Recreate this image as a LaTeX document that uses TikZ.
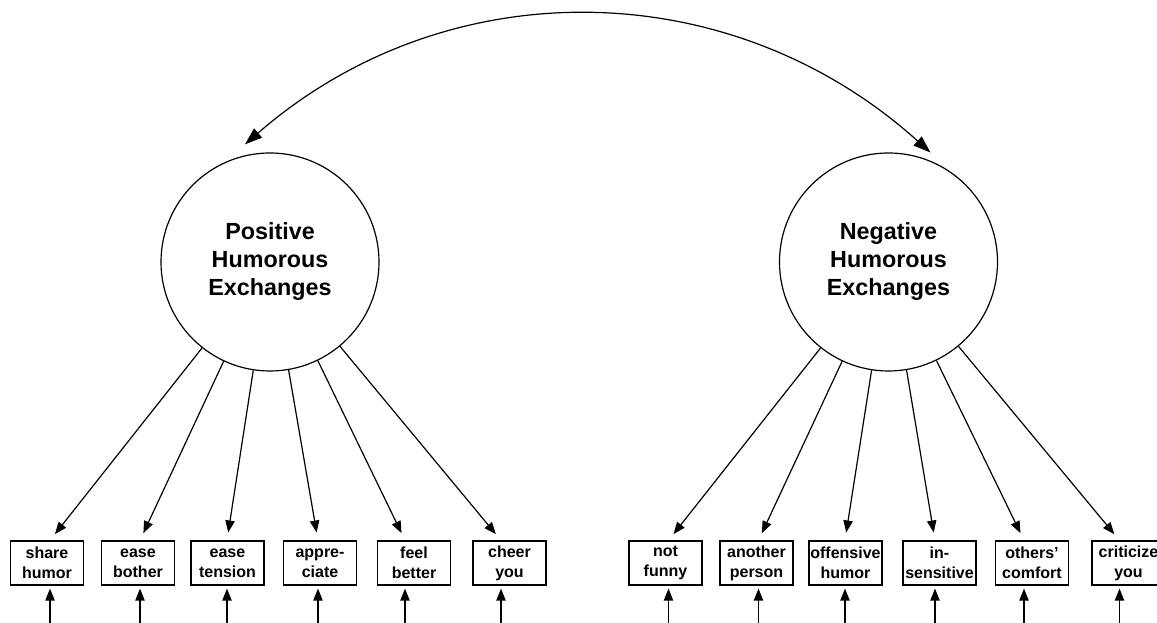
\documentclass[tikz,border=0pt]{standalone}
\usepackage{fontspec}
\setmainfont{Liberation Sans}
\usetikzlibrary{arrows.meta}
\tikzset{
	factor/.style={circle, draw, line width=0.9pt, minimum size=163.5pt, inner sep=0pt, align=center,
		font=\fontsize{17.5}{21}\selectfont\bfseries},
	item/.style={rectangle, draw, line width=0.9pt, minimum width=54.75pt, minimum height=33pt, inner sep=0pt, align=center,
		font=\fontsize{12}{15}\selectfont\bfseries},
	load/.style={line width=0.9pt, -{Triangle[length=9pt,width=7pt]}},
	corr/.style={line width=0.9pt, {Triangle[length=13pt,width=9pt]}-{Triangle[length=13pt,width=9pt]}}
}

\begin{document}
\begin{tikzpicture}[x=0.75pt,y=0.75pt]
	\useasboundingbox (0,0) rectangle (1157,623);
	\node[factor] (pos) at (270,361) {Positive\\Humorous\\Exchanges};
	\node[factor] (neg) at (888.5,361) {Negative\\Humorous\\Exchanges};
	\draw[corr] ([shift={(102:8pt)}]pos.102) to[out=41, in=138] ([shift={(69:5.7pt)}]neg.69);
	\foreach \i/\bx/\ax/\txt in {1/47/50/{share\\humor}, 2/138/140/{ease\\bother}, 3/227.5/227/{ease\\tension},
		4/320/318/{appre-\\ciate}, 5/414/405/{feel\\better}, 6/509.5/501/{cheer\\you}}
	{
		\node[item] (p\i) at (\bx,60) {\txt};
		\coordinate (pe\i) at (\ax,-5);
		\draw[load, shorten >=6pt] (pos) -- (pe\i |- p\i.north);
		\draw[load, shorten >=2.25pt] (pe\i) -- (pe\i |- p\i.south);
	}
	\foreach \i/\bx/\ax/\txt in {1/665.5/668.5/{not\\funny}, 2/756.5/758.5/{another\\person}, 3/845.5/845/{offensive\\humor},
		4/939.5/935/{in-\\sensitive}, 5/1032/1024/{others’\\comfort}, 6/1128.5/1119.5/{criticize\\you}}
	{
		\node[item] (n\i) at (\bx,60) {\txt};
		\coordinate (ne\i) at (\ax,-5);
		\draw[load, shorten >=6pt] (neg) -- (ne\i |- n\i.north);
		\draw[load, shorten >=2.25pt] (ne\i) -- (ne\i |- n\i.south);
	}
\end{tikzpicture}
\end{document}
